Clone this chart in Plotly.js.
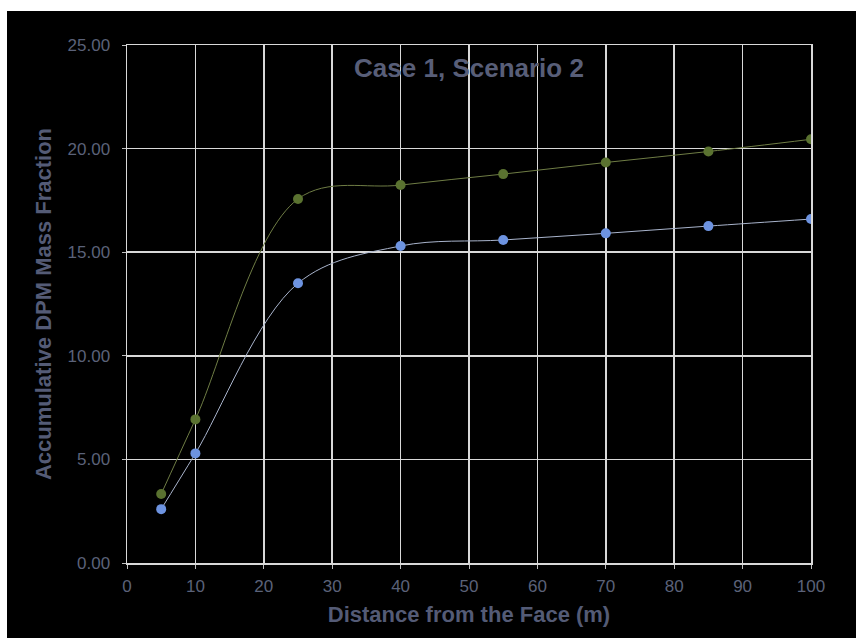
<!DOCTYPE html>
<html>
<head>
<meta charset="utf-8">
<script src="https://cdn.plot.ly/plotly-3.0.1.min.js"></script>
<style>
  html, body { margin: 0; padding: 0; background: #ffffff; width: 856px; height: 638px; overflow: hidden; }
  #chart { position: absolute; left: 7px; top: 11px; width: 849px; height: 627px; }
</style>
</head>
<body>
<div id="chart"></div>
<script>
const distance = [5, 10, 25, 40, 55, 70, 85, 100];
const seriesGreen = [3.33, 6.93, 17.57, 18.24, 18.77, 19.33, 19.86, 20.45];
const seriesBlue = [2.60, 5.29, 13.50, 15.30, 15.59, 15.91, 16.26, 16.60];
const xTicks = [0, 10, 20, 30, 40, 50, 60, 70, 80, 90, 100];
const yTicks = [0, 5, 10, 15, 20, 25];

const labelColor = '#5b6279';
const font = 'Arial, "Liberation Sans", sans-serif';

const traces = [
  {
    x: distance, y: seriesGreen, type: 'scatter', mode: 'lines+markers',
    line: { shape: 'spline', smoothing: 1, color: '#6f7d45', width: 1 },
    marker: { color: '#5a7230', size: 10 },
    showlegend: false, hoverinfo: 'x+y'
  },
  {
    x: distance, y: seriesBlue, type: 'scatter', mode: 'lines+markers',
    line: { shape: 'spline', smoothing: 1, color: '#a9b4cc', width: 1 },
    marker: { color: '#6d93e0', size: 10 },
    showlegend: false, hoverinfo: 'x+y'
  }
];

const layout = {
  width: 849, height: 627,
  paper_bgcolor: '#000000', plot_bgcolor: '#000000',
  margin: { l: 120, r: 45, t: 34, b: 75 },
  font: { family: font, color: labelColor, size: 17 },
  title: {
    text: 'Case 1, Scenario 2',
    font: { family: font, size: 26, color: '#585e78', weight: 'bold' },
    x: 0.5, xref: 'paper', xanchor: 'center',
    y: 0.909, yref: 'container', yanchor: 'middle'
  },
  xaxis: {
    range: [0, 100], tickvals: xTicks, ticktext: xTicks.map(String),
    showgrid: true, gridcolor: '#d9d9d9', gridwidth: 1.5,
    showline: true, linecolor: '#d9d9d9', linewidth: 1.5, mirror: true,
    ticks: 'outside', ticklen: 4, tickcolor: '#bfbfbf',
    ticklabelstandoff: 3,
    zeroline: false,
    tickfont: { family: font, size: 17, color: labelColor },
    title: { text: 'Distance from the Face (m)', standoff: 11,
      font: { family: font, size: 22, color: '#545b76', weight: 'bold' } }
  },
  yaxis: {
    range: [0, 25], tickvals: yTicks, ticktext: yTicks.map(v => v.toFixed(2)),
    showgrid: true, gridcolor: '#d9d9d9', gridwidth: 1.5,
    showline: true, linecolor: '#d9d9d9', linewidth: 1.5, mirror: true,
    ticks: 'outside', ticklen: 4, tickcolor: '#bfbfbf',
    ticklabelstandoff: 8,
    zeroline: false,
    tickfont: { family: font, size: 17, color: labelColor },
    title: { text: 'Accumulative DPM Mass Fraction', standoff: 10,
      font: { family: font, size: 22, color: '#545b76', weight: 'bold' } }
  }
};

Plotly.newPlot('chart', traces, layout, { displayModeBar: false, staticPlot: true });
</script>
</body>
</html>
